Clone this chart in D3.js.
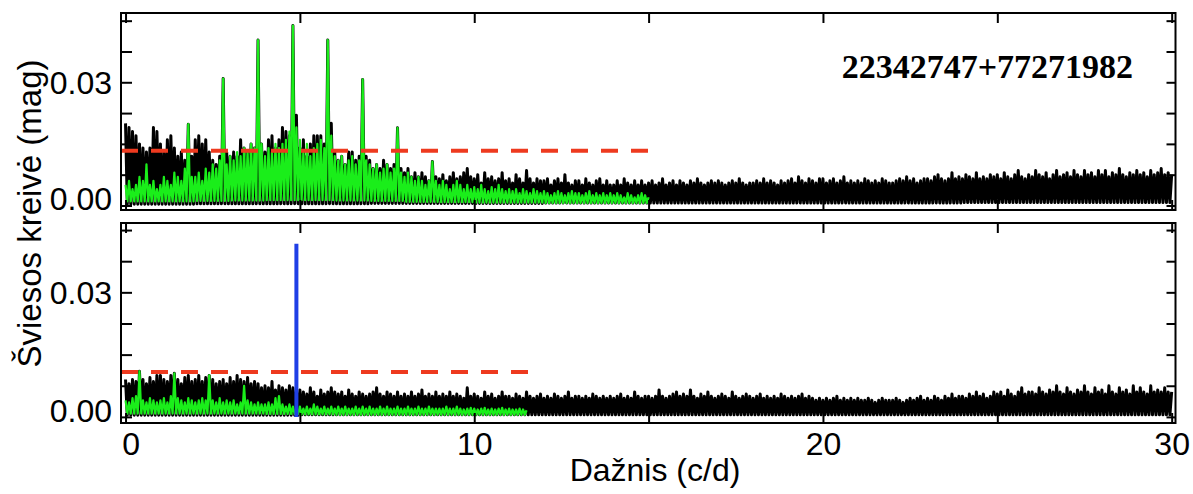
<!DOCTYPE html>
<html><head><meta charset="utf-8">
<script src="https://cdn.jsdelivr.net/npm/d3@7"></script>
<style>
html,body{margin:0;padding:0;background:#fff;}
svg{display:block;}
</style></head><body>
<svg id="chart" width="1193" height="494"></svg>
<script>
// ---------- DATA (amplitudes in mmag, sampled every 0.1 c/d) ----------
const freqStep = 0.1;
const topBlackPeaks = [
 20,19,18,17,15,14,13,14,19,18,
 15,13,16,17,14,12,13,11,19.8,12,
 16,17,15,16,13,11,10,12,30.9,13,
 12,13,12,16,14,13,15,14,40.3,15,
 13,16,17,14,16,19,18,17,43.8,22,
 14,16,12,15,17,17,17,15,40.3,20,
 13,11,12,10,13,13,11,12,30.7,12,
 11,9,10,9,11,10,9,10,18.9,9,
 8,9,7,8,7,8,7,6,10.7,7,
 6.5,7.5,6,7,8,6.5,7,8,9,7,
 6.5,7.5,5.5,8,6.5,7,6,6.5,8,6,
 6.5,5.5,7.5,6.5,5.5,8.5,6.5,5.5,6.5,6,
 6,6.5,5,6,6.5,5.5,7.5,5.5,5,6,
 6,5,6.5,5.5,5,6,6.5,5,6,5,
 5,6,5,6.5,5.5,5,6,5,6,5,
 5.5,6,5,5.5,6.5,5,5.5,6,5,6,
 5.5,5,6,5.5,6.5,5.5,5,5.5,6,5.5,
 6,5.5,5,5.5,6,5.5,6.5,5.5,5,5.5,
 5.5,6,5.5,6.5,5.5,6,5.5,5,6,5.5,
 6,6.5,5.5,7,6,5.5,6.5,6,5.5,6.5,
 6.5,5.5,6,6.5,5.5,6,7,5.5,6,5.5,
 6,5.5,6.5,6,5.5,6,5.5,6.5,6,5.5,
 5.5,6,6.5,6,7,6,6.5,5.5,6,6.5,
 6.5,6,7,7.5,6.5,6,6.5,8,6.5,7,
 6.5,7.5,7,6.5,8,6.5,7,6.5,7.5,7,
 7.5,6.5,8,7,6.5,7.5,8.5,7,6.5,7.5,
 7,8.5,7.5,7,8,6.5,7.5,8.5,7,7.5,
 8,7,8.5,7.5,7,8.5,7.5,8,7,8.5,
 7.5,8.5,7,8,7.5,9,7.5,7,8,7.5,
 8.5,7.5,8,7,8.5,7.5,8,9,7.5,8,
 7.5
];
const topBlackTroughs = [0.3,0.3,0.4,0.4,0.4,0.4,0.4,0.5,0.5,0.5,0.5,0.5,0.6,0.6,0.6,0.6,0.6,0.6,0.6,0.6,0.6,0.6,0.6,0.6,0.7,0.7,0.7,0.7,0.7,0.7,0.7];

const topGreenPeaks = [
 5,6,4,5,7,6,10,5,6,4,
 5,7,6,5,8,7,6,9,19.8,7,
 7,8,6,9,8,10,9,11,30.9,10,
 12,11,13,12,14,13,15,14,40.3,15,
 12,14,13,15,14,15,16,18,43.8,19,
 16,13,15,12,14,15,16,14,40.3,17,
 12,11,12,10,11,12,10,11,30.7,11,
 10,9,10,8,9,10,8,9,18.9,8,
 7,8,7,6,7,6,5,6,10.7,6,
 5,6,5,4,5,6,5,4,5,4,
 4.5,4,5,4,3.5,4.5,4,5,4,3.5,
 4,3.5,4,3,4,3.5,3,4,3.5,3,
 3.5,3,2.5,3,3.5,3,2.5,3,3.5,3,
 3,2.5,3,3.5,2.5,3,2.5,3,2.5,3,
 2.5,3,2.5,2,3,2.5,2,2.5,3,2.5,
 2
];
const topGreenTroughs = [1.0,1.0,1.1,1.2,1.3,1.3,1.2,1.1,0.9,0.8,0.7,0.7,0.6,0.6,0.6,0.6];

const bottomBlackPeaks = [
 9,8,9,8.5,11,9,8,9.5,8.5,10,
 10,9,8.5,10,10.5,9,8,9.5,10,8.5,
 9,10,8.5,9.5,10,9,8,8.5,9,8,
 9.5,8.5,10,9,8.5,9.5,8,8.5,8,7,
 7.5,7,8.5,6.5,7.5,7,6.5,7.5,7,6.5,
 6.5,6,5.5,7,6,5,6.5,5.5,6,7,
 6,5.5,6,5,6.5,5.5,5,6,5.5,5,
 5.5,6,7,5.5,5,6,5.5,5,6,5,
 5.5,5,6,5,5.5,6.5,5,5.5,5,6,
 5,5.5,5,6,5,5.5,5,4.5,7,5,
 5.5,5,4.5,6,5,5.5,4.5,5,6,5,
 5,4.5,5.5,5,4.5,6,5,4.5,5,5.5,
 4.5,5,4.5,5.5,5,4.5,5,6,4.5,5,
 5,4.5,5,4.5,5.5,5,4.5,5,4.5,5,
 4.5,5,5.5,4.5,5,4.5,6,5,4.5,5,
 5,4.5,5,6.5,5,4.5,5,5.5,6,5,
 5.5,5,6.5,5,4.5,5.5,5,6,5,4.5,
 5,5.5,5,4.5,6,5,4.5,5,5.5,5,
 4.5,5,5.5,4.5,5,4.5,5,4.5,5.5,5,
 4.5,5,4.5,5,5.5,4.5,5,4.5,4,4.5,
 4,4.5,4,4.5,5,4,4.5,4,4.5,4,
 4.5,4,4,4.5,4,3.5,4,4.5,4,4,
 4,4.5,4,3.5,4,4.5,4,4.5,5,4,
 4.5,4,5,4.5,4,5,4.5,5.5,4.5,5,
 5,4.5,5.5,5,6,5,5.5,4.5,5,6,
 5.5,6,5,6.5,5.5,5,6,7,5.5,6,
 6,5.5,7,6,5.5,6.5,6,7.5,6,5.5,
 7,6,5.5,6.5,6,7.5,6,5.5,7,6,
 6.5,5.5,7.5,6,5.5,7,6,6.5,5.5,7.5,
 6,7,6,5.5,7.5,6,6.5,6,7,6,
 6
];
const bottomBlackTroughs = [0.4,0.4,0.4,0.4,0.4,0.5,0.5,0.5,0.5,0.5,0.5,0.5,0.5,0.5,0.5,0.5,0.5,0.5,0.5,0.5,0.5,0.5,0.5,0.5,0.5,0.5,0.5,0.5,0.5,0.5,0.5];

const bottomGreenPeaks = [
 4,3.5,4.5,5,11,4,3.5,4.5,4,3.5,
 4,4.5,3.5,5,10.5,4.5,4,3.5,4.5,4,
 3.5,4,4.5,4,10,4,3.5,4.5,3.5,4,
 3.5,4,3,3.5,7.5,4,3.5,3,3.5,3,
 3,3.5,3,4.5,5,3,2.5,3,2.5,2,
 2.5,2,2.5,2,3,2.5,2,2.5,2,2.5,
 2,2.5,2,2.5,2,2,2.5,2,2.5,2,
 2.5,2,2,2.5,2,2.5,2,2,2.5,2,
 2,2.5,2,2,2.5,2,2,2.5,2,2,
 2,2,2.5,2,2,2.5,2,1.8,2,2.2,
 2,1.8,2,2.2,1.8,2,1.8,2,2.2,1.8,
 2,1.8,1.8,2,1.8,1.6
];
const bottomGreenTroughs = [0.8,0.8,0.8,0.8,0.7,0.6,0.5,0.5,0.5,0.5,0.5,0.5];

// significance thresholds (mag) and their frequency extent (c/d)
const thresholds = [0.0133, 0.0108];
const thresholdEnds = [15.1, 11.6];
// identified frequency (c/d) and amplitude (mag) in the lower panel
const spikeFreq = [4.9];
const spikeAmp = [0.0417];

const xTicks = [0,5,10,15,20,25,30];
const xLabelTicks = [0,10,20,30];
const yTicks = [0,0.0075,0.015,0.0225,0.03,0.0375,0.045];
const yLabelTicks = [0,0.03];
const starName = "22342747+77271982";
const xTitle = "Dažnis (c/d)";
const yTitle = "Šviesos kreivė (mag)";

// ---------- helpers ----------
function spectrum(peaks, troughs) {
  const pts = [];
  peaks.forEach((p, i) => {
    const f = i * freqStep;
    pts.push([f, p / 1000]);
    if (i < peaks.length - 1) {
      pts.push([f + freqStep / 2, troughs[Math.floor(f + 1e-9)] / 1000]);
    }
  });
  return pts;
}

const svg = d3.select("#chart");
const sans = "'Liberation Sans', Arial, Helvetica, sans-serif";
const frameLeft = 121, frameRight = 1175.5;
const x = d3.scaleLinear().domain([-0.13, 30.11]).range([frameLeft, frameRight]);

const panels = [
  {top: 13, bottom: 210, yDom: [-0.0011, 0.04687],
   black: spectrum(topBlackPeaks, topBlackTroughs),
   green: spectrum(topGreenPeaks, topGreenTroughs),
   thr: thresholds[0], thrEnd: thresholdEnds[0], spike: null, xlabels: false},
  {top: 223, bottom: 423, yDom: [-0.00147, 0.0467],
   black: spectrum(bottomBlackPeaks, bottomBlackTroughs),
   green: spectrum(bottomGreenPeaks, bottomGreenTroughs),
   thr: thresholds[1], thrEnd: thresholdEnds[1],
   spike: {f: spikeFreq[0], a: spikeAmp[0]}, xlabels: true}
];

const defs = svg.append("defs");

panels.forEach((p, k) => {
  const y = d3.scaleLinear().domain(p.yDom).range([p.bottom, p.top]);
  const clipId = "clip" + k;
  defs.append("clipPath").attr("id", clipId).append("rect")
    .attr("x", frameLeft).attr("y", p.top)
    .attr("width", frameRight - frameLeft).attr("height", p.bottom - p.top);

  const g = svg.append("g");
  const data = g.append("g").attr("clip-path", `url(#${clipId})`);
  const line = d3.line().x(d => x(d[0])).y(d => y(d[1]));

  data.append("path").datum(p.black).attr("d", line)
    .attr("fill", "none").attr("stroke", "#000").attr("stroke-width", 3)
    .attr("stroke-linejoin", "round");
  data.append("path").datum(p.green).attr("d", line)
    .attr("fill", "none").attr("stroke", "#1aee1a").attr("stroke-width", 2.2)
    .attr("stroke-linejoin", "round");
  data.append("line")
    .attr("x1", x(-0.13)).attr("x2", x(p.thrEnd))
    .attr("y1", y(p.thr)).attr("y2", y(p.thr))
    .attr("stroke", "#ee3a1f").attr("stroke-width", 4)
    .attr("stroke-dasharray", "17,13");
  if (p.spike) {
    data.append("line")
      .attr("x1", x(p.spike.f)).attr("x2", x(p.spike.f))
      .attr("y1", y(0)).attr("y2", y(p.spike.a))
      .attr("stroke", "#1f3fe6").attr("stroke-width", 4);
  }

  // frame
  g.append("rect").attr("x", frameLeft).attr("y", p.top)
    .attr("width", frameRight - frameLeft).attr("height", p.bottom - p.top)
    .attr("fill", "none").attr("stroke", "#000").attr("stroke-width", 2);

  const styleTicks = sel => {
    sel.select(".domain").remove();
    sel.selectAll(".tick line").attr("stroke", "#000").attr("stroke-width", 2);
  };
  g.append("g").attr("transform", `translate(0,${p.bottom})`)
    .call(d3.axisBottom(x).tickValues(xTicks).tickSizeInner(-10).tickSizeOuter(0).tickFormat(""))
    .call(styleTicks);
  g.append("g").attr("transform", `translate(0,${p.top})`)
    .call(d3.axisTop(x).tickValues(xTicks).tickSizeInner(-10).tickSizeOuter(0).tickFormat(""))
    .call(styleTicks);
  g.append("g").attr("transform", `translate(${frameLeft},0)`)
    .call(d3.axisLeft(y).tickValues(yTicks).tickSizeInner(-11).tickSizeOuter(0).tickFormat(""))
    .call(styleTicks);
  g.append("g").attr("transform", `translate(${frameRight},0)`)
    .call(d3.axisRight(y).tickValues(yTicks).tickSizeInner(-9).tickSizeOuter(0).tickFormat(""))
    .call(styleTicks);

  // y tick labels
  const yl = g.append("g").attr("transform", `translate(${frameLeft},0)`)
    .call(d3.axisLeft(y).tickValues(yLabelTicks).tickSize(0).tickPadding(9).tickFormat(d3.format(".2f")));
  yl.select(".domain").remove();
  yl.selectAll("text").attr("font-family", sans).attr("font-size", 32).attr("fill", "#000")
    .attr("dy", d => d === 0 ? "0.14em" : "0.34em");

  if (p.xlabels) {
    const xl = g.append("g").attr("transform", `translate(0,${p.bottom})`)
      .call(d3.axisBottom(x).tickValues(xLabelTicks).tickSize(0).tickPadding(9).tickFormat(d3.format("d")));
    xl.select(".domain").remove();
    xl.selectAll("text").attr("font-family", sans).attr("font-size", 32).attr("fill", "#000")
      .attr("dx", d => d === 0 ? 5 : 0);
  }
});

// titles
svg.append("text").attr("x", 655).attr("y", 481).attr("text-anchor", "middle")
  .attr("font-family", sans).attr("font-size", 32).text(xTitle);
svg.append("text").attr("transform", "translate(41,213.5) rotate(-90)")
  .attr("text-anchor", "middle").attr("font-family", sans).attr("font-size", 33).text(yTitle);
svg.append("text").attr("x", 1133).attr("y", 78).attr("text-anchor", "end")
  .attr("font-family", "'Liberation Serif', 'Times New Roman', serif")
  .attr("font-weight", "bold").attr("font-size", 34).text(starName);
</script></body></html>
